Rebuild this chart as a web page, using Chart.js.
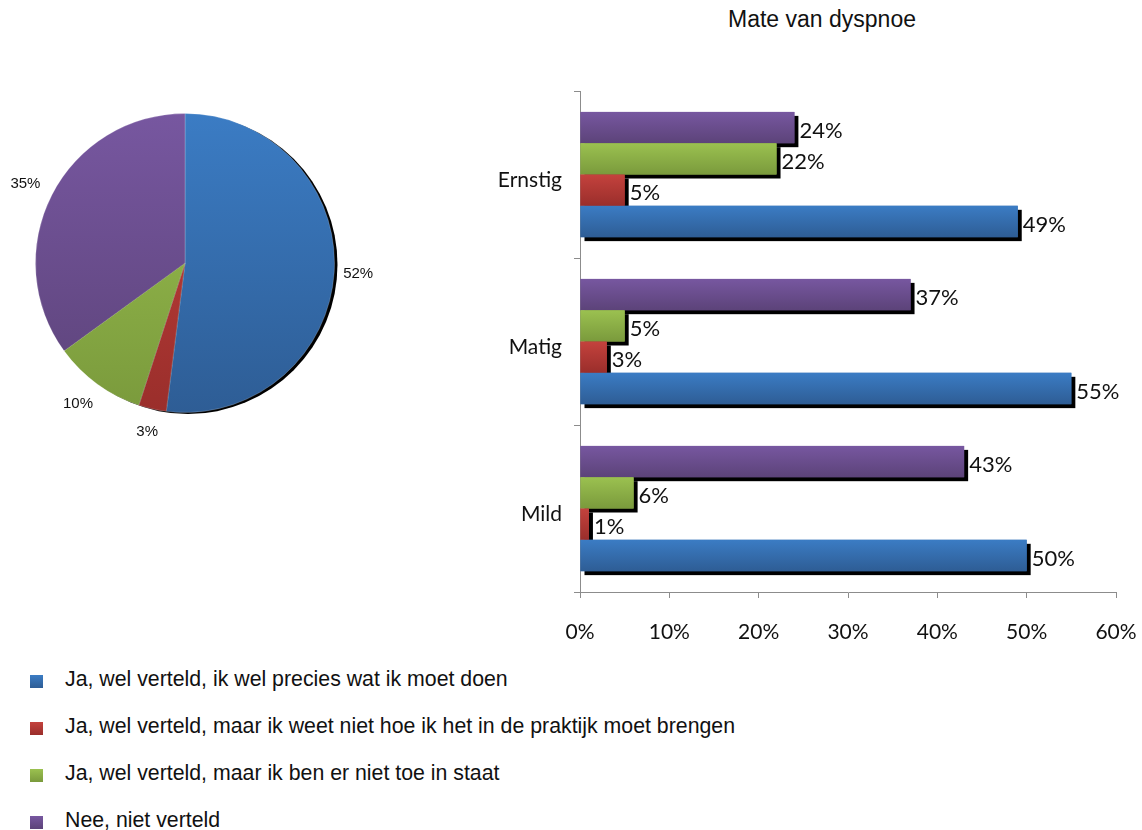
<!DOCTYPE html>
<html lang="nl">
<head>
    <meta charset="UTF-8">
    <title>Mate van dyspnoe</title>
    <script src="https://cdn.jsdelivr.net/npm/chart.js"></script>
    <style>
        body {
            margin: 0;
            width: 1142px;
            height: 830px;
            background: #fff;
            position: relative;
            overflow: hidden;
            font-family: "Liberation Sans", Arial, sans-serif;
        }
        #pieBox { position: absolute; left: 0; top: 0; width: 400px; height: 460px; }
        #barBox { position: absolute; left: 480px; top: 0; width: 672px; height: 660px; }
        .title {
            position: absolute;
            left: 622px;
            width: 400px;
            top: 6px;
            text-align: center;
            font-size: 23px;
            color: #111;
        }
        .legend { position: absolute; left: 30px; top: 667px; }
        .legend div {
            height: 47px;
            font-size: 21.3px;
            color: #111;
            display: flex;
            align-items: flex-start;
        }
        .legend span.sw {
            width: 13px;
            height: 13px;
            margin: 8px 22px 0 0;
            display: inline-block;
            flex: none;
        }
    </style>
</head>
<body>
    <div id="pieBox"><canvas id="pieChart"></canvas></div>
    <div class="title">Mate van dyspnoe</div>
    <div id="barBox"><canvas id="barChart"></canvas></div>
    <div class="legend" id="legend"></div>

    <script>
        // answers (legend order)
        const answers = [
            'Ja, wel verteld, ik wel precies wat ik moet doen',
            'Ja, wel verteld, maar ik weet niet hoe ik het in de praktijk moet brengen',
            'Ja, wel verteld, maar ik ben er niet toe in staat',
            'Nee, niet verteld'
        ];
        const colors = ['#3570B4', '#B83B37', '#8DB04B', '#6D5090'];
        const colorsTop = ['#3B7CC4', '#C4423D', '#9BC150', '#7757A0'];
        const colorsBottom = ['#2E5D95', '#9A2E2B', '#7A9A3C', '#5C4379'];

        // pie: total
        const pieValues = [52, 3, 10, 35];

        // bars: per severity
        const severities = ['Ernstig', 'Matig', 'Mild'];
        const weetWat = [49, 55, 50];
        const weetNietHoe = [5, 3, 1];
        const nietInStaat = [22, 5, 6];
        const nietVerteld = [24, 37, 43];
        const xTicks = [0, 10, 20, 30, 40, 50, 60];

        // legend
        const legend = document.getElementById('legend');
        answers.forEach((a, i) => {
            const d = document.createElement('div');
            d.innerHTML = '<span class="sw" style="background:linear-gradient(' + colorsTop[i] + ',' + colorsBottom[i] + ')"></span>' + a;
            legend.appendChild(d);
        });

        // pie
        const pieExtras = {
            id: 'pieExtras',
            beforeDatasetsDraw(chart) {
                const arc = chart.getDatasetMeta(0).data[0];
                if (!arc) return;
                const c = chart.ctx;
                c.save();
                c.fillStyle = '#000';
                c.beginPath();
                c.arc(arc.x + 3, arc.y + 1.5, arc.outerRadius, 0, Math.PI * 2);
                c.fill();
                c.restore();
            },
            afterDatasetsDraw(chart) {
                const c = chart.ctx;
                const meta = chart.getDatasetMeta(0);
                c.save();
                c.font = '15px "Liberation Sans", Arial, sans-serif';
                c.fillStyle = '#111';
                c.textAlign = 'center';
                c.textBaseline = 'middle';
                meta.data.forEach((arc, i) => {
                    const a = (arc.startAngle + arc.endAngle) / 2;
                    const r = arc.outerRadius + 24;
                    c.fillText(pieValues[i] + '%', arc.x + Math.cos(a) * r - (Math.cos(a) < -0.5 ? 5 : 0), arc.y + Math.sin(a) * r);
                });
                c.restore();
            }
        };

        function pieGrad(ctx) {
            const i = ctx.dataIndex;
            const ca = ctx.chart.chartArea;
            if (!ca || i === undefined) return colors[i || 0];
            const g = ctx.chart.ctx.createLinearGradient(0, ca.top, 0, ca.bottom);
            g.addColorStop(0, colorsTop[i]);
            g.addColorStop(1, colorsBottom[i]);
            return g;
        }

        new Chart(document.getElementById('pieChart'), {
            type: 'pie',
            data: {
                labels: answers,
                datasets: [{
                    data: pieValues,
                    backgroundColor: pieGrad,
                    borderColor: 'rgba(255,255,255,0.2)',
                    borderWidth: 1
                }]
            },
            options: {
                responsive: true,
                maintainAspectRatio: false,
                animation: false,
                layout: { padding: { left: 35, right: 65, top: 113, bottom: 47 } },
                plugins: { legend: { display: false }, tooltip: { enabled: false } }
            },
            plugins: [pieExtras]
        });

        // bars (top to bottom within a group: purple, green, red, blue)
        const barOrder = [3, 2, 1, 0];
        const barSeries = [weetWat, weetNietHoe, nietInStaat, nietVerteld];

        const barExtras = {
            id: 'barExtras',
            beforeDatasetsDraw(chart) {
                const c = chart.ctx;
                c.save();
                c.fillStyle = '#000';
                chart.data.datasets.forEach((ds, di) => {
                    chart.getDatasetMeta(di).data.forEach(bar => {
                        const h = bar.height;
                        c.fillRect(bar.base + 4, bar.y - h / 2 + 4, bar.x - bar.base, h);
                    });
                });
                c.restore();
            },
            afterDatasetsDraw(chart) {
                const c = chart.ctx;
                c.save();
                c.font = '22px Lato, "Open Sans", sans-serif';
                c.textAlign = 'left';
                c.textBaseline = 'middle';
                chart.data.datasets.forEach((ds, di) => {
                    const k = barOrder[di];
                    chart.getDatasetMeta(di).data.forEach((bar, i) => {
                        const h = bar.height;
                        const g = c.createLinearGradient(0, bar.y - h / 2, 0, bar.y + h / 2);
                        g.addColorStop(0, colorsTop[k]);
                        g.addColorStop(1, colorsBottom[k]);
                        c.fillStyle = g;
                        c.fillRect(bar.base, bar.y - h / 2, bar.x - bar.base, h);
                        c.fillStyle = '#111';
                        c.fillText(ds.data[i] + '%', bar.x + 5, bar.y + 3);
                    });
                });
                c.restore();
            }
        };

        new Chart(document.getElementById('barChart'), {
            type: 'bar',
            data: {
                labels: severities,
                datasets: barOrder.map(k => ({
                    label: answers[k],
                    data: barSeries[k],
                    backgroundColor: colors[k],
                    categoryPercentage: 0.75,
                    barPercentage: 1.0
                }))
            },
            options: {
                indexAxis: 'y',
                responsive: true,
                maintainAspectRatio: false,
                animation: false,
                layout: { padding: { left: 0, right: 36, top: 91, bottom: 0 } },
                plugins: { legend: { display: false }, tooltip: { enabled: false } },
                scales: {
                    x: {
                        min: 0,
                        max: 60,
                        afterBuildTicks: (s) => { s.ticks = xTicks.map(v => ({ value: v })); },
                        afterFit: (s) => { s.height = 68; s.paddingRight = 0; s.paddingLeft = 0; },
                        grid: { drawOnChartArea: false, tickLength: 6, color: '#8c8c8c' },
                        border: { color: '#8c8c8c' },
                        ticks: {
                            padding: 22,
                            color: '#111',
                            font: { family: 'Lato', size: 21 },
                            callback: (v) => v + '%'
                        }
                    },
                    y: {
                        afterFit: (s) => { s.width = 100; },
                        grid: { offset: true, drawOnChartArea: false, tickLength: 6, color: '#8c8c8c' },
                        border: { color: '#8c8c8c' },
                        ticks: {
                            padding: 12,
                            labelOffset: 6,
                            color: '#111',
                            font: { family: 'Lato', size: 21 }
                        }
                    }
                }
            },
            plugins: [barExtras]
        });
    </script>
</body>
</html>
